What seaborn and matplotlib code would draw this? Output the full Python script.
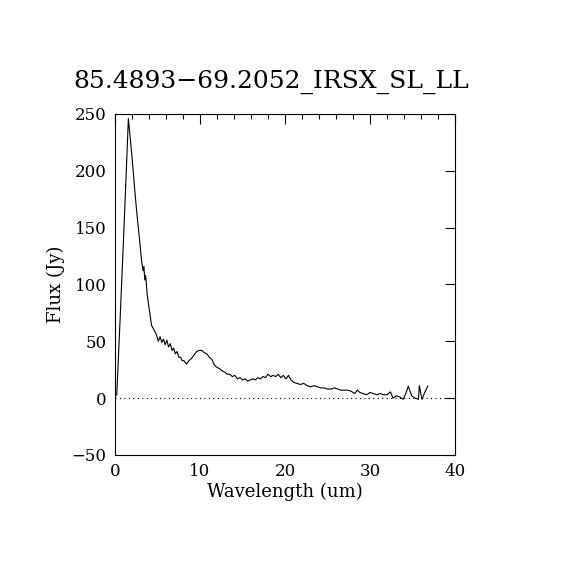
import matplotlib
matplotlib.use("Agg")
import matplotlib.pyplot as plt
from matplotlib.ticker import MultipleLocator
import pandas as pd
import seaborn as sns

# Spectrum
wavelength = [0.2, 0.6, 1.0, 1.3, 1.57, 1.8, 2.0, 2.3, 2.55, 2.85,
              3.14, 3.3, 3.4, 3.5, 3.6, 3.8, 4.05, 4.3, 4.6, 4.9,
              5.1, 5.3, 5.5, 5.7, 5.9, 6.1, 6.3, 6.5, 6.7, 6.9,
              7.1, 7.3, 7.5, 7.7, 7.9, 8.1, 8.4, 8.7, 9.0, 9.3,
              9.6, 9.9, 10.2, 10.5, 10.8, 11.1, 11.4, 11.7, 12.0, 12.3,
              12.6, 12.9, 13.2, 13.5, 13.8, 14.1, 14.4, 14.7, 15.0, 15.3,
              15.6, 15.9, 16.2, 16.5, 16.8, 17.1, 17.4, 17.7, 18.0, 18.3,
              18.6, 18.9, 19.2, 19.5, 19.8, 20.1, 20.4, 20.7, 21.0, 21.4,
              21.8, 22.2, 22.6, 23.0, 23.4, 23.8, 24.2, 24.6, 25.0, 25.4,
              25.8, 26.2, 26.6, 27.0, 27.4, 27.8, 28.2, 28.5, 28.8, 29.2,
              29.6, 30.0, 30.4, 30.8, 31.2, 31.6, 32.0, 32.4, 32.7, 33.1,
              33.5, 33.9, 34.2, 34.5, 34.9, 35.3, 35.7, 35.8, 36.1, 36.5,
              36.8]
flux = [2.6, 70, 140, 195, 246, 228, 212, 185, 164, 142,
        120, 112, 116, 104, 108, 90, 77, 64, 60, 55,
        50, 54, 49, 52, 47, 51, 45, 48, 42, 44,
        39, 41, 36, 36, 33, 33, 30, 33, 35, 38,
        41, 42, 42, 40, 39, 36, 34, 29, 27, 26,
        24, 23, 21, 21, 19, 20, 17, 18, 16, 17,
        15, 16, 17, 16, 18, 17, 19, 18, 21, 19,
        20, 19, 21, 18, 20, 17, 20, 16, 14, 13,
        12, 13, 11, 10, 11, 10, 9, 9, 8, 8,
        9, 8, 7, 7, 7, 6, 4, 7, 5, 4,
        3, 5, 4, 3, 4, 3, 3, 5.5, 0, 2,
        1, -1, 4, 10.5, 2, 0, -1, 11, -1, 6,
        10.8]

df = pd.DataFrame({"wavelength": wavelength, "flux": flux})

sns.set_style("white")
plt.rcParams["font.family"] = ["DejaVu Serif"]
plt.rcParams["text.color"] = "black"
plt.rcParams["axes.labelcolor"] = "black"
plt.rcParams["xtick.color"] = "black"
plt.rcParams["ytick.color"] = "black"
plt.rcParams["xtick.direction"] = "in"
plt.rcParams["ytick.direction"] = "in"

fig = plt.figure(figsize=(5.7, 5.7), dpi=100)
ax = fig.add_axes([0.2018, 0.2018, 0.5965, 0.5982])

sns.lineplot(data=df, x="wavelength", y="flux", sort=False, estimator=None,
             color="black", linewidth=0.8, ax=ax)
ax.axhline(0, color="black", linestyle=(0, (1, 3)), linewidth=0.8)

ax.set_xlim(0, 40)
ax.set_ylim(-50, 250)
ax.xaxis.set_major_locator(MultipleLocator(10))
ax.xaxis.set_minor_locator(MultipleLocator(2))
ax.yaxis.set_major_locator(MultipleLocator(50))
ax.tick_params(which="both", top=True, right=True, color="black", width=0.8)
ax.tick_params(which="major", length=7, labelsize=12, pad=6)
ax.tick_params(which="minor", length=3.5)
for s in ax.spines.values():
    s.set_color("black")
    s.set_linewidth(0.8)

ax.set_xlabel("Wavelength (um)", fontsize=13, labelpad=2)
ax.set_ylabel("Flux (Jy)", fontsize=13, labelpad=5)
fig.text(0.476, 0.856, "85.4893\u221269.2052_IRSX_SL_LL", fontsize=18,
         ha="center", va="center", color="black")

fig.savefig("out.png", dpi=100, facecolor="white")
